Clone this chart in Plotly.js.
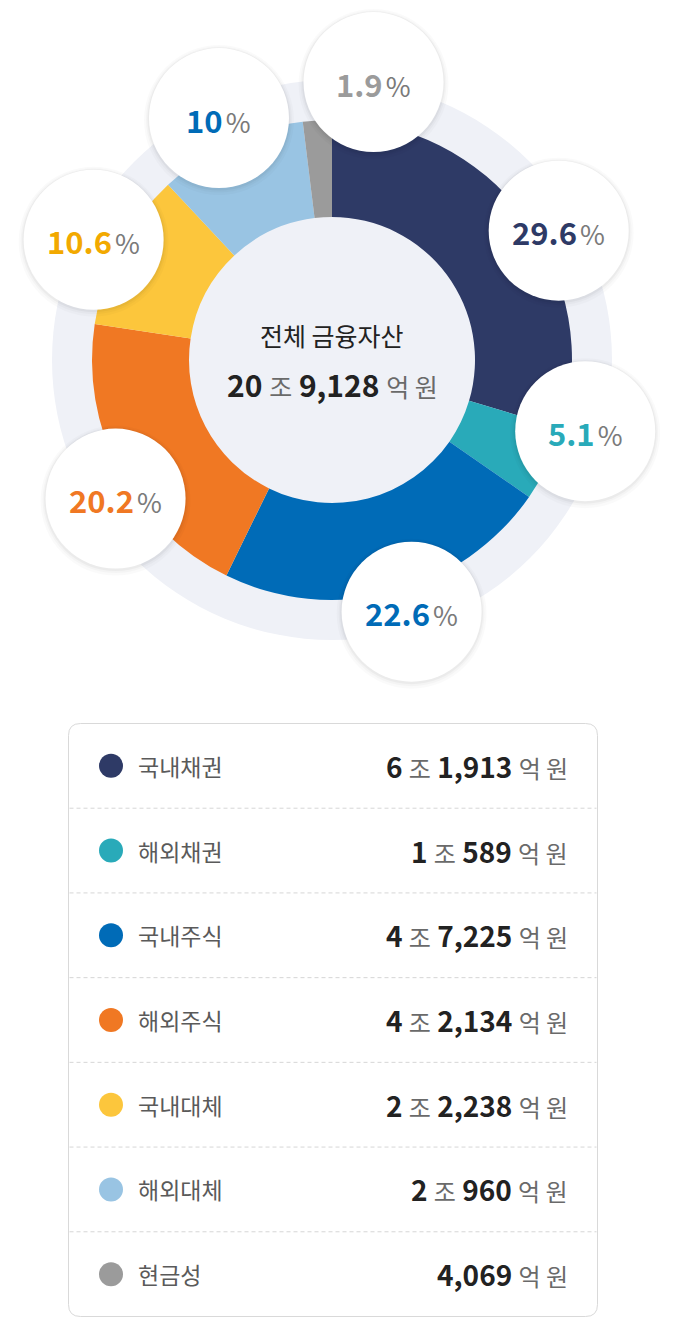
<!DOCTYPE html>
<html>
<head>
<meta charset="utf-8">
<script src="https://cdn.plot.ly/plotly-3.0.1.min.js"></script>
<style>
  body { margin: 0; background: #fff; }
  #chart { width: 680px; height: 1318px; }
</style>
</head>
<body>
<div id="chart"></div>
<script>
// asset classes, amounts in 억 원
var categories = ['국내채권', '해외채권', '국내주식', '해외주식', '국내대체', '해외대체', '현금성']
var amounts = [61913, 10589, 47225, 42134, 22238, 20960, 4069]
var shareLabels = ['29.6', '5.1', '22.6', '20.2', '10.6', '10', '1.9']
var centerTitle = '전체 금융자산'

var sliceColors = ['#2e3a66', '#29aab9', '#006bb7', '#f07823', '#fcc63c', '#99c4e3', '#9b9b9b']
var textColors = ['#2e3a66', '#29aab9', '#006bb7', '#f07823', '#f2a900', '#006bb7', '#9b9b9b']

var W = 680, H = 1318
var FONT = '"Noto Sans CJK KR", "Noto Sans", sans-serif'

// pixel -> paper
function px(x) { return x / W }
function py(y) { return 1 - y / H }

// donut geometry
var cx = 332, cy = 360, R = 240, ringR = 280, holeR = 143

// bubble placement: nudge (deg) off the slice mid-angle, distance from centre
var bubbleNudge = [7, -10, -3, -5, -1, 0, 12]
var bubbleDist = [261, 263, 264, 257, 267, 267, 281]
var bubbleR = 70

function light(s, size, color) {
    return '<span style="font-size:' + size + 'px;color:' + color + '">' + s + '</span>'
}

function formatWon(v, unitSize) {
    var jo = Math.floor(v / 10000)
    var eok = v % 10000
    var s = ''
    if (jo > 0) s += '<b>' + jo + '</b> ' + light('조', unitSize, '#6a6a6a') + ' '
    s += '<b>' + eok.toLocaleString('en-US') + '</b> ' + light('억 원', unitSize, '#6a6a6a')
    return s
}

var total = amounts.reduce(function (a, b) { return a + b }, 0)

var shapes = []
var annotations = []

function circle(x, y, r, fill, layer) {
    shapes.push({
        type: 'circle', xref: 'paper', yref: 'paper', layer: layer,
        x0: px(x - r), x1: px(x + r), y0: py(y + r), y1: py(y - r),
        fillcolor: fill, line: {width: 0}
    })
}

// light background ring (also shows through the hole)
circle(cx, cy, ringR, '#eff1f7', 'below')

// percentage bubbles
var cum = 0
for (let i = 0; i < amounts.length; i++) {
    var mid = (cum + amounts[i] / 2) / total * 360
    cum += amounts[i]
    var a = (mid + bubbleNudge[i]) * Math.PI / 180
    var bx = cx + bubbleDist[i] * Math.sin(a)
    var by = cy - bubbleDist[i] * Math.cos(a)
    circle(bx, by + 2, bubbleR + 5, 'rgba(0,0,0,0.018)', 'above')
    circle(bx, by + 1.5, bubbleR + 3, 'rgba(0,0,0,0.025)', 'above')
    circle(bx, by + 1, bubbleR + 1.5, 'rgba(0,0,0,0.035)', 'above')
    circle(bx, by, bubbleR, '#ffffff', 'above')
    annotations.push({
        xref: 'paper', yref: 'paper', x: px(bx), y: py(by + 1),
        xanchor: 'center', yanchor: 'middle', showarrow: false,
        text: '<b>' + shareLabels[i] + '</b>' + light(' ', 14, '#7a7a7a') + light('%', 27, '#7a7a7a'),
        font: {family: FONT, size: 31, color: textColors[i]}
    })
}

// centre text
annotations.push({
    xref: 'paper', yref: 'paper', x: px(cx), y: py(335),
    xanchor: 'center', yanchor: 'middle', showarrow: false,
    text: centerTitle, font: {family: FONT, size: 25, color: '#222'}
})
annotations.push({
    xref: 'paper', yref: 'paper', x: px(cx), y: py(384),
    xanchor: 'center', yanchor: 'middle', showarrow: false,
    text: formatWon(total, 25), font: {family: FONT, size: 30, color: '#222'}
})

// legend table
var boxL = 68.5, boxR = 597.5, boxT = 723.5, boxB = 1316.5, rad = 12
shapes.push({
    type: 'path', xref: 'paper', yref: 'paper', layer: 'above',
    path: 'M' + px(boxL + rad) + ',' + py(boxT) +
        ' L' + px(boxR - rad) + ',' + py(boxT) +
        ' Q' + px(boxR) + ',' + py(boxT) + ' ' + px(boxR) + ',' + py(boxT + rad) +
        ' L' + px(boxR) + ',' + py(boxB - rad) +
        ' Q' + px(boxR) + ',' + py(boxB) + ' ' + px(boxR - rad) + ',' + py(boxB) +
        ' L' + px(boxL + rad) + ',' + py(boxB) +
        ' Q' + px(boxL) + ',' + py(boxB) + ' ' + px(boxL) + ',' + py(boxB - rad) +
        ' L' + px(boxL) + ',' + py(boxT + rad) +
        ' Q' + px(boxL) + ',' + py(boxT) + ' ' + px(boxL + rad) + ',' + py(boxT) + ' Z',
    fillcolor: 'rgba(0,0,0,0)', line: {color: '#d9d9d9', width: 1}
})

var rowH = (boxB - boxT) / categories.length
for (let i = 0; i < categories.length; i++) {
    var ry = boxT + rowH * (i + 0.5)
    if (i > 0) {
        var sy = boxT + rowH * i
        shapes.push({
            type: 'line', xref: 'paper', yref: 'paper', layer: 'above',
            x0: px(boxL + 1), x1: px(boxR - 1), y0: py(sy), y1: py(sy),
            line: {color: '#d6d6d6', width: 1, dash: '4px,3px'}
        })
    }
    circle(111, ry, 12, sliceColors[i], 'above')
    annotations.push({
        xref: 'paper', yref: 'paper', x: px(136), y: py(ry),
        xanchor: 'left', yanchor: 'middle', showarrow: false,
        text: categories[i], font: {family: FONT, size: 23, color: '#5a5a5a'}
    })
    annotations.push({
        xref: 'paper', yref: 'paper', x: px(570), y: py(ry),
        xanchor: 'right', yanchor: 'middle', showarrow: false,
        text: formatWon(amounts[i], 24), font: {family: FONT, size: 28, color: '#222'}
    })
}

var data = [{
    type: 'pie',
    labels: categories,
    values: amounts,
    sort: false,
    direction: 'clockwise',
    rotation: 0,
    hole: holeR / R,
    textinfo: 'none',
    hoverinfo: 'skip',
    marker: {colors: sliceColors, line: {width: 0}},
    domain: {x: [px(cx - R), px(cx + R)], y: [py(cy + R), py(cy - R)]}
}]

var layout = {
    width: W,
    height: H,
    margin: {l: 0, r: 0, t: 0, b: 0},
    showlegend: false,
    paper_bgcolor: '#ffffff',
    font: {family: FONT},
    shapes: shapes,
    annotations: annotations
}

Plotly.newPlot('chart', data, layout, {displayModeBar: false, staticPlot: true})
</script>
</body>
</html>
